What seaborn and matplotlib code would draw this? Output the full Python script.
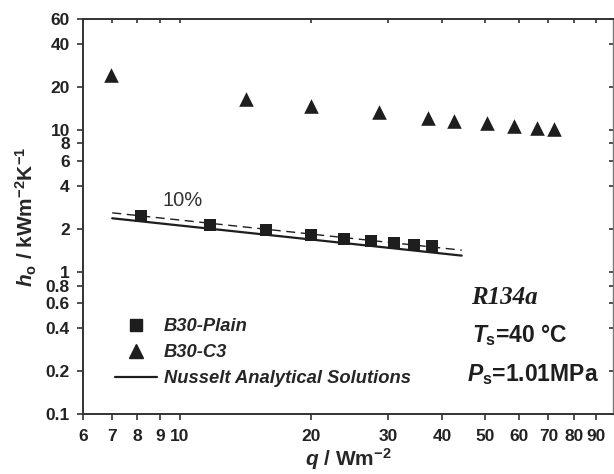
import numpy as np
import pandas as pd
import seaborn as sns
import matplotlib.pyplot as plt
from matplotlib.lines import Line2D
from matplotlib.ticker import FixedLocator, NullLocator

# data
q_plain = [8.15, 11.7, 15.8, 20.0, 23.8, 27.5, 31.0, 34.5, 37.8]
h_plain = [2.47, 2.12, 1.98, 1.81, 1.70, 1.65, 1.59, 1.55, 1.52]

q_c3 = [6.96, 14.2, 20.0, 28.7, 37.0, 42.5, 50.6, 58.3, 65.8, 72.2]
h_c3 = [24.2, 16.5, 14.7, 13.4, 12.0, 11.55, 11.07, 10.6, 10.3, 10.15]

q_nusselt = [7.0, 44.3]
h_nusselt = [2.38, 1.30]
h_nusselt_10 = [2.60, 1.42]

xticks = [6, 7, 8, 9, 10, 20, 30, 40, 50, 60, 70, 80, 90]
yticks = [0.1, 0.2, 0.4, 0.6, 0.8, 1, 2, 4, 6, 8, 10, 20, 40, 60]
ytick_labels = ['0.1', '0.2', '0.4', '0.6', '0.8', '1', '2', '4', '6', '8', '10', '20', '40', '60']

sns.set_theme(style='ticks')
plt.rcParams['font.family'] = ['Liberation Sans', 'DejaVu Sans']
plt.rcParams['mathtext.fontset'] = 'custom'
plt.rcParams['mathtext.rm'] = 'Liberation Sans:bold'
plt.rcParams['mathtext.it'] = 'Liberation Sans:italic:bold'
plt.rcParams['mathtext.bf'] = 'Liberation Sans:bold'

dark = '#1e1e1e'
axc = '#333333'

fig = plt.figure(figsize=(6.14, 4.74), dpi=100)
ax = fig.add_axes([83 / 614, 1 - 414 / 474, (613.3 - 83) / 614, (414 - 19) / 474])

df_plain = pd.DataFrame({'q': q_plain, 'h': h_plain})
df_c3 = pd.DataFrame({'q': q_c3, 'h': h_c3})
df_nu = pd.DataFrame({'q': q_nusselt, 'h': h_nusselt, 'h10': h_nusselt_10})

sns.lineplot(data=df_nu, x='q', y='h', color=dark, linewidth=1.6, ax=ax, zorder=2)
sns.lineplot(data=df_nu, x='q', y='h10', color=dark, linewidth=1.0, ax=ax, zorder=2)
ax.lines[-1].set_dashes([6.5, 4])
sns.scatterplot(data=df_plain, x='q', y='h', marker='s', s=8.3 ** 2, color=dark,
                linewidth=0, ax=ax, zorder=3)
sns.scatterplot(data=df_c3, x='q', y='h', marker='^', s=10.5 ** 2, color=dark,
                linewidth=0, ax=ax, zorder=3)

ax.set_xscale('log')
ax.set_yscale('log')
ax.set_xlim(6, 98.6)
ax.set_ylim(0.1, 60)

ax.xaxis.set_major_locator(FixedLocator(xticks))
ax.xaxis.set_minor_locator(NullLocator())
ax.set_xticklabels([str(t) for t in xticks])
ax.yaxis.set_major_locator(FixedLocator(yticks))
ax.yaxis.set_minor_locator(NullLocator())
ax.set_yticklabels(ytick_labels)

for lab in ax.get_xticklabels() + ax.get_yticklabels():
    lab.set_fontweight('bold')
    lab.set_fontsize(12.5)
    lab.set_color('#222222')

ax.tick_params(axis='both', which='major', direction='out', length=4, width=1.2,
               color=axc)
ax.tick_params(axis='x', pad=7)
ax.tick_params(axis='y', pad=5.5)
ax.tick_params(top=True, right=True)
# top and right get short inward ticks
for tick in ax.xaxis.get_major_ticks():
    tick.tick2line.set_marker(3)
    tick.tick2line.set_markersize(3)
    tick.tick2line.set_color('#888888')
for tick in ax.yaxis.get_major_ticks():
    tick.tick2line.set_marker(0)
    tick.tick2line.set_markersize(3)
    tick.tick2line.set_color('#888888')

for side in ['left', 'bottom', 'top']:
    ax.spines[side].set_linewidth(1.4)
    ax.spines[side].set_color(axc)
ax.spines['right'].set_linewidth(1.0)
ax.spines['right'].set_color('#777777')

ax.set_xlabel(r'$q$ / Wm$^{-2}$', fontsize=15, fontweight='bold', labelpad=1)
ax.set_ylabel(r'$h_{\mathrm{o}}$ / kWm$^{-2}$K$^{-1}$', fontsize=15, fontweight='bold',
              labelpad=5)

ax.text(0.149, 0.527, '10%', transform=ax.transAxes, fontsize=14.5, color='#333333',
        ha='left', va='baseline')
ax.text(0.731, 0.2785, 'R134a', transform=ax.transAxes, fontsize=18,
        family='Liberation Serif', fontweight='bold', style='italic', color=dark,
        ha='left', va='baseline')
ax.text(0.733, 0.183, r'$T_{\mathrm{s}}$=40 °C', transform=ax.transAxes, fontsize=16.5,
        fontweight='bold', color=dark, ha='left', va='baseline')
ax.text(0.724, 0.0835, r'$P_{\mathrm{s}}$=1.01MPa', transform=ax.transAxes, fontsize=16.5,
        fontweight='bold', color=dark, ha='left', va='baseline')

handles = [
    Line2D([], [], marker='s', linestyle='none', color=dark, markersize=8.3),
    Line2D([], [], marker='^', linestyle='none', color=dark, markersize=10.5),
    Line2D([], [], color=dark, linewidth=1.6),
]
labels = ['B30-Plain', 'B30-C3', 'Nusselt Analytical Solutions']
fig.legend(handles, labels, loc='upper left', bbox_to_anchor=(115 / 614, 1 - 318 / 474),
           frameon=False, borderpad=0, borderaxespad=0, handlelength=2.3,
           handletextpad=0.35, labelspacing=0.5,
           prop=dict(family='Liberation Sans', weight='bold', style='italic', size=13.2))

fig.savefig('out.png', dpi=100)
